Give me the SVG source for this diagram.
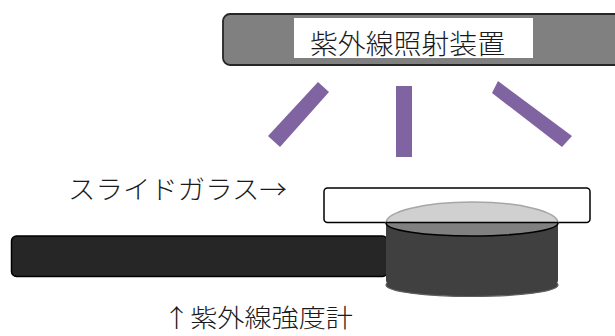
<svg xmlns="http://www.w3.org/2000/svg" width="615" height="336" viewBox="0 0 615 336">
  <style>
    .lbl { font-family: "Noto Sans CJK JP", "Liberation Serif", sans-serif; font-weight: 300; fill: #1a1a1a; }
    .ray { fill: #8064A2; }
  </style>
  <defs>
    <clipPath id="aboveGlass"><rect x="300" y="180" width="300" height="42.5"/></clipPath>
    <clipPath id="belowGlass"><rect x="300" y="222.5" width="300" height="40"/></clipPath>
  </defs>
  <rect width="615" height="336" fill="#ffffff"/>

  <!-- UV irradiation unit -->
  <g id="uv-lamp">
    <rect x="223" y="14" width="410" height="51" rx="7" fill="#808080" stroke="#262626" stroke-width="1.8"/>
    <rect x="294" y="18" width="239" height="40" fill="#ffffff"/>
    <text class="lbl" x="310" y="54" font-size="27" textLength="195" lengthAdjust="spacingAndGlyphs">紫外線照射装置</text>
  </g>

  <!-- UV rays -->
  <g id="rays">
    <polygon class="ray" points="318,82 329,92 280,147 268,136"/>
    <rect class="ray" x="396" y="86" width="16" height="71"/>
    <polygon class="ray" points="498,81 492,93 562,147 572,136"/>
  </g>

  <!-- slide glass -->
  <g id="slide-glass">
    <rect x="324" y="188" width="266" height="34.5" rx="3.5" fill="#ffffff" stroke="#000000" stroke-width="1.5"/>
    <text class="lbl" x="68" y="199" font-size="26" textLength="219" lengthAdjust="spacingAndGlyphs">スライドガラス→</text>
  </g>

  <!-- UV intensity meter: cable bar and sensor head -->
  <g id="uv-meter">
    <rect x="11.5" y="236" width="376" height="40.5" rx="5" fill="#262626" stroke="#000000" stroke-width="1.5"/>
    <!-- sensor base -->
    <ellipse cx="472" cy="285" rx="86" ry="11.5" fill="#404040" stroke="#5f5f5f" stroke-width="1.2"/>
    <!-- sensor body -->
    <path d="M386,223 L558,223 L558,280 Q558,284 554,284 L390,284 Q386,284 386,280 Z" fill="#404040"/>
    <!-- top face, lower half below the glass -->
    <ellipse cx="472" cy="223" rx="86" ry="13" fill="#808080" stroke="#000000" stroke-width="1.6" clip-path="url(#belowGlass)"/>
    <!-- top face seen through the glass -->
    <ellipse cx="472" cy="223" rx="86" ry="21" fill="#d0d0d0" stroke="#a6a6a6" stroke-width="1.5" clip-path="url(#aboveGlass)"/>
    <line x1="386" y1="222.5" x2="558" y2="222.5" stroke="#000000" stroke-width="1.5"/>
    <text class="lbl" x="163" y="327" font-size="25" textLength="190" lengthAdjust="spacingAndGlyphs">↑紫外線強度計</text>
  </g>
</svg>
